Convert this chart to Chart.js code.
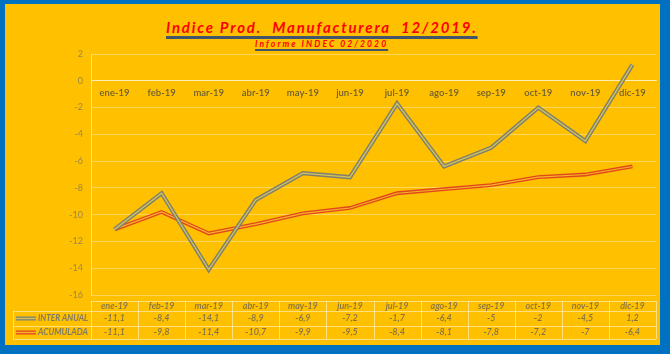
<!DOCTYPE html>
<html>
<head>
<meta charset="utf-8">
<script src="https://cdn.jsdelivr.net/npm/chart.js@4"></script>
<style>
    body { margin: 0; width: 670px; height: 354px; background: #0070C0; overflow: hidden; }
    #wrap { position: absolute; left: 5px; top: 4px; width: 655px; height: 341px; background: #FFC000; }
    #chartBox { position: absolute; left: 0; top: 0; width: 655px; height: 341px; }
    .title {
        position: absolute; left: 161px; top: 14px; margin: 0;
        font: italic bold 15px Lato, sans-serif; letter-spacing: 1.8px; color: #FF0000;
        text-decoration: underline; text-decoration-color: #44546A;
        text-decoration-thickness: 3px; text-underline-offset: 3px; white-space: pre;
    }
    .subtitle {
        position: absolute; left: 250px; top: 35px; margin: 0;
        font: italic bold 8.5px Lato, sans-serif; letter-spacing: 2.1px; color: #FF0000;
        text-decoration: underline; text-decoration-color: #44546A;
        text-decoration-thickness: 2px; text-underline-offset: 2px; white-space: pre;
    }
</style>
</head>
<body>
<div id="wrap">
    <div class="title">Indice Prod.  Manufacturera  12/2019.</div>
    <div class="subtitle">Informe INDEC 02/2020</div>
    <div id="chartBox"><canvas id="myChart"></canvas></div>
</div>
<script>
const months = ['ene-19', 'feb-19', 'mar-19', 'abr-19', 'may-19', 'jun-19',
    'jul-19', 'ago-19', 'sep-19', 'oct-19', 'nov-19', 'dic-19'];
const interAnual = [-11.1, -8.4, -14.1, -8.9, -6.9, -7.2, -1.7, -6.4, -5, -2, -4.5, 1.2];
const acumulada = [-11.1, -9.8, -11.4, -10.7, -9.9, -9.5, -8.4, -8.1, -7.8, -7.2, -7, -6.4];
const yMin = -16, yMax = 2, yStep = 2;

const gridColor = 'rgba(255,255,255,0.35)';
const tableLine = 'rgba(255,255,255,0.5)';
const textColor = '#857346';

// excel style "double" line: thick outer stroke, thin lighter stroke on top
const doubleLine = {
    id: 'doubleLine',
    afterDatasetDraw(chart, args) {
        const ds = chart.data.datasets[args.index];
        const pts = args.meta.data;
        const ctx = chart.ctx;
        ctx.save();
        ctx.strokeStyle = ds.innerColor;
        ctx.lineWidth = ds.innerWidth;
        ctx.beginPath();
        pts.forEach((p, i) => i ? ctx.lineTo(p.x, p.y) : ctx.moveTo(p.x, p.y));
        ctx.stroke();
        ctx.restore();
    }
};

// data table under the plot
const dataTable = {
    id: 'dataTable',
    afterDraw(chart) {
        const ctx = chart.ctx;
        const area = chart.chartArea;
        const x = chart.scales.x;
        const colW = area.width / months.length;
        const rows = [area.bottom + 6, area.bottom + 16, area.bottom + 31, area.bottom + 44];
        const legendLeft = 8;

        ctx.save();
        ctx.strokeStyle = tableLine;
        ctx.lineWidth = 1;
        ctx.beginPath();
        ctx.moveTo(area.left, rows[0] + 0.5); ctx.lineTo(area.right, rows[0] + 0.5);
        for (let r = 1; r < rows.length; r++) {
            ctx.moveTo(legendLeft, rows[r] + 0.5); ctx.lineTo(area.right, rows[r] + 0.5);
        }
        ctx.moveTo(legendLeft + 0.5, rows[1]); ctx.lineTo(legendLeft + 0.5, rows[3]);
        for (let i = 0; i <= months.length; i++) {
            const xx = Math.round(area.left + i * colW) + 0.5;
            ctx.moveTo(xx, rows[0]); ctx.lineTo(xx, rows[3]);
        }
        ctx.stroke();

        ctx.textAlign = 'center';
        ctx.textBaseline = 'middle';
        ctx.fillStyle = textColor;
        ctx.font = 'italic 600 9px Lato, sans-serif';
        months.forEach((m, i) => ctx.fillText(m, x.getPixelForValue(i), (rows[0] + rows[1]) / 2 + 0.5));

        chart.data.datasets.forEach((ds, r) => {
            const cy = (rows[r + 1] + rows[r + 2]) / 2;
            ctx.font = 'italic 600 9px Lato, sans-serif';
            ctx.fillStyle = textColor;
            ctx.textAlign = 'center';
            ds.data.forEach((v, i) => ctx.fillText(String(v).replace('.', ','), x.getPixelForValue(i), cy));

            // legend key
            ctx.strokeStyle = ds.borderColor;
            ctx.lineWidth = 4;
            ctx.beginPath(); ctx.moveTo(11, cy); ctx.lineTo(31, cy); ctx.stroke();
            ctx.strokeStyle = ds.innerColor;
            ctx.lineWidth = 1.4;
            ctx.beginPath(); ctx.moveTo(11, cy); ctx.lineTo(31, cy); ctx.stroke();

            ctx.fillStyle = '#807a62';
            ctx.font = 'italic bold 9px Lato, sans-serif';
            ctx.textAlign = 'right';
            ctx.fillText(ds.label, area.left - 3, cy, 50);
        });
        ctx.restore();
    }
};

const ctx = document.querySelector('#myChart');
new Chart(ctx, {
    type: 'line',
    data: {
        labels: months,
        datasets: [{
            label: 'INTER ANUAL',
            data: interAnual,
            borderColor: '#7f7f72',
            innerColor: '#cfc25a',
            innerWidth: 1.4,
            borderWidth: 4.2,
            pointRadius: 0,
            tension: 0
        }, {
            label: 'ACUMULADA',
            data: acumulada,
            borderColor: '#e2461c',
            innerColor: '#f7b52a',
            innerWidth: 1.2,
            borderWidth: 3.8,
            pointRadius: 0,
            tension: 0
        }]
    },
    options: {
        responsive: true,
        maintainAspectRatio: false,
        animation: false,
        layout: { padding: { left: 0, right: 4, top: 50, bottom: 50 } },
        plugins: {
            legend: { display: false },
            tooltip: { enabled: false }
        },
        scales: {
            x: {
                position: { y: 0 },
                offset: true,
                grid: { display: true, drawOnChartArea: false, drawTicks: false, offset: true },
                border: { color: 'rgba(255,255,255,0.55)' },
                ticks: {
                    color: '#6e5e30',
                    font: { family: 'Lato', size: 9.5, weight: '600' },
                    padding: 6,
                    maxRotation: 0
                }
            },
            y: {
                min: yMin,
                max: yMax,
                afterFit: s => { s.width = 86; },
                grid: { color: gridColor, drawTicks: false },
                border: { color: 'rgba(255,255,255,0.55)' },
                ticks: {
                    stepSize: yStep,
                    color: '#9a8748',
                    font: { family: 'Lato', size: 9 },
                    padding: 8
                }
            }
        }
    },
    plugins: [doubleLine, dataTable]
});
</script>
</body>
</html>
